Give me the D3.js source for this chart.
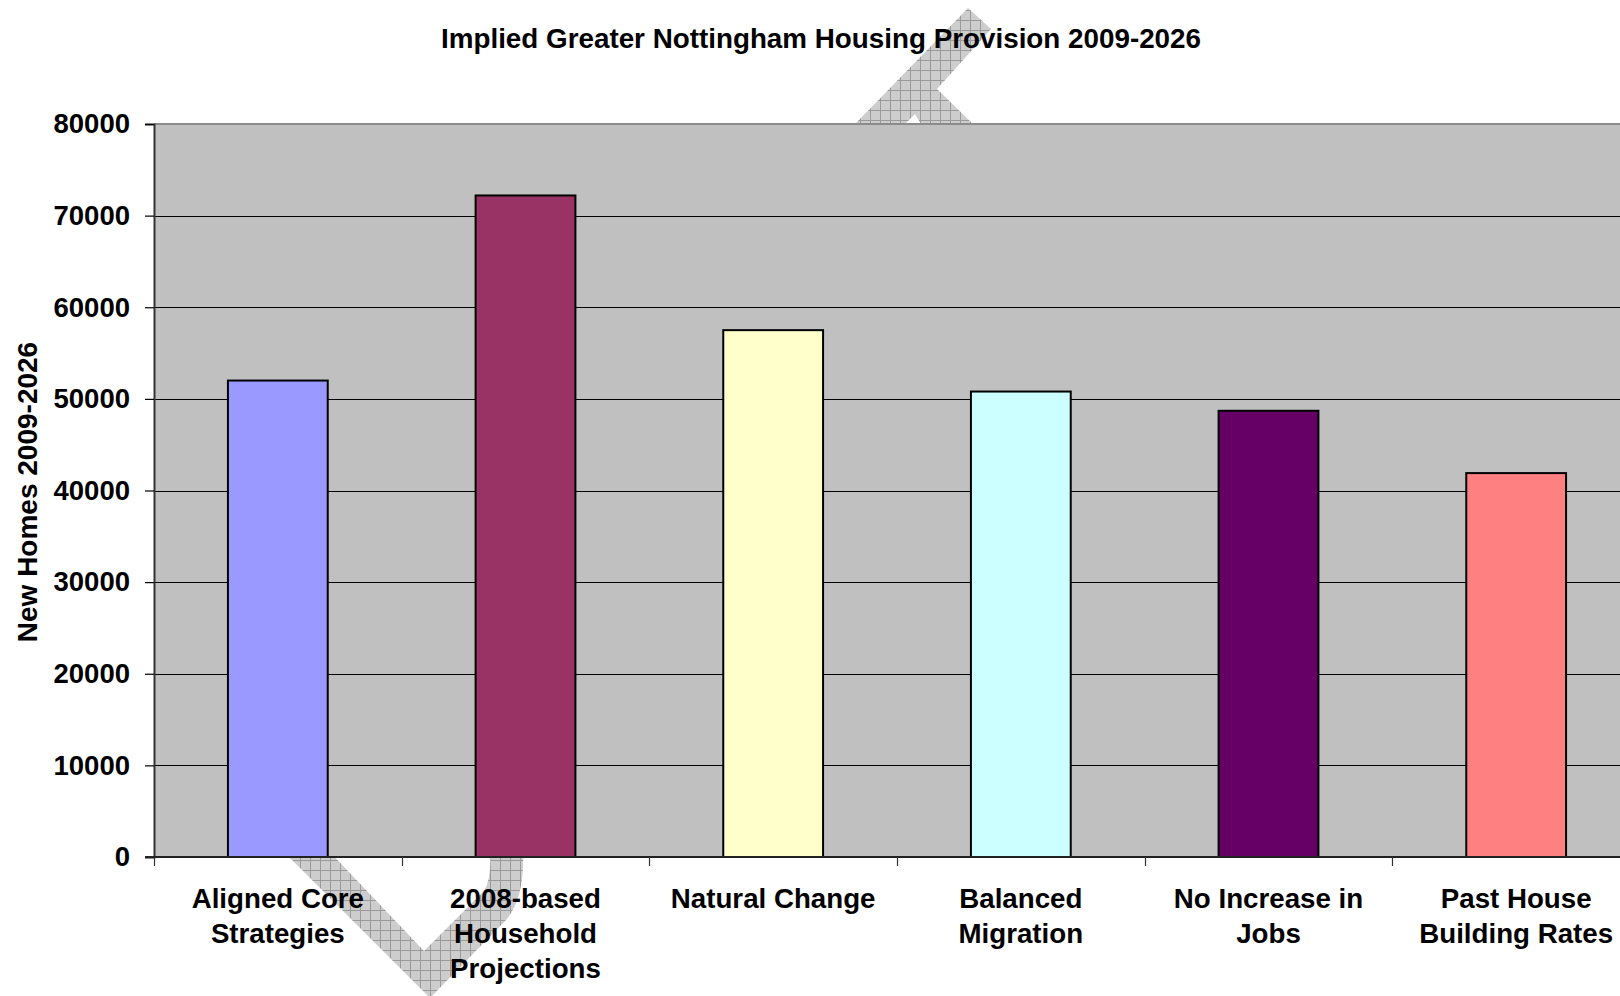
<!DOCTYPE html>
<html>
<head>
<meta charset="utf-8">
<script src="https://cdn.jsdelivr.net/npm/d3@7"></script>
<style>
  html, body { margin: 0; padding: 0; background: #fff; overflow: hidden; }
  svg { display: block; font-family: "Liberation Sans", Arial, sans-serif; }
</style>
</head>
<body>
<svg id="chart" width="1620" height="996"></svg>
<script>
// chart data
const categories = ['Aligned Core Strategies', '2008-based Household Projections', 'Natural Change',
  'Balanced Migration', 'No Increase in Jobs', 'Past House Building Rates']
const categoryLines = [
  ['Aligned Core', 'Strategies'],
  ['2008-based', 'Household', 'Projections'],
  ['Natural Change'],
  ['Balanced', 'Migration'],
  ['No Increase in', 'Jobs'],
  ['Past House', 'Building Rates']
]
const newHomes = [52000, 72200, 57500, 50800, 48700, 41900]
const barColors = ['#9999ff', '#993366', '#ffffcc', '#ccffff', '#660066', '#ff8080']
const yTicks = [0, 10000, 20000, 30000, 40000, 50000, 60000, 70000, 80000]
const titleText = 'Implied Greater Nottingham Housing Provision 2009-2026'
const yTitle = 'New Homes 2009-2026'

const svg = d3.select('#chart')
const plot = { left: 154, right: 1640, top: 124, bottom: 857 }

const x = d3.scaleBand().domain(categories).range([plot.left, plot.right])
  .paddingInner(0.597).paddingOuter(0.2985)
const xCell = d3.scaleBand().domain(categories).range([plot.left, plot.right]).padding(0)
const y = d3.scaleLinear().domain([0, 80000]).range([plot.bottom, plot.top])

// hatched background graphic (visible only outside the plot area)
const defs = svg.append('defs')
const pat = defs.append('pattern').attr('id', 'hatch').attr('patternUnits', 'userSpaceOnUse')
  .attr('width', 10).attr('height', 10)
pat.append('rect').attr('width', 10).attr('height', 10).attr('fill', '#cdcdcd')
pat.append('path').attr('d', 'M0 0.5 H10 M0.5 0 V10').attr('stroke', '#9a9a9a').attr('stroke-width', 1)

const deco = svg.append('g').attr('fill', 'url(#hatch)')
deco.append('path')
  .attr('d', 'M 855 124 L 968 8 L 991 29 L 937 89 L 973 124 L 921 124 L 915 114 L 905 124 Z')
deco.append('path')
  .attr('d', 'M 282 850 L 430 998 L 506 920 Q 525 898 523 850 L 490 850 Q 492 878 484 891 L 424 951 L 328 850 Z')

// plot area
svg.append('rect')
  .attr('x', plot.left).attr('y', plot.top)
  .attr('width', plot.right - plot.left).attr('height', plot.bottom - plot.top)
  .attr('fill', '#c0c0c0')

// gridlines
svg.append('g')
  .selectAll('line')
  .data(yTicks.filter((d) => d > 0 && d < 80000))
  .join('line')
  .attr('x1', plot.left).attr('x2', plot.right)
  .attr('y1', (d) => Math.round(y(d)) + 0.5).attr('y2', (d) => Math.round(y(d)) + 0.5)
  .attr('stroke', '#000').attr('stroke-width', 1.2)

// plot border top
svg.append('line')
  .attr('x1', plot.left).attr('x2', plot.right)
  .attr('y1', plot.top).attr('y2', plot.top)
  .attr('stroke', '#8c8c8c').attr('stroke-width', 2)

// bars
svg.append('g')
  .selectAll('rect')
  .data(categories)
  .join('rect')
  .attr('x', (d) => x(d))
  .attr('y', (d, i) => y(newHomes[i]))
  .attr('width', x.bandwidth())
  .attr('height', (d, i) => y(0) - y(newHomes[i]))
  .attr('fill', (d, i) => barColors[i])
  .attr('stroke', '#000').attr('stroke-width', 2)

// y axis
const yAxis = svg.append('g')
  .attr('transform', `translate(${plot.left},0)`)
  .call(d3.axisLeft(y).tickValues(yTicks).tickSize(9).tickPadding(15).tickFormat(d3.format('d')))
yAxis.select('.domain').attr('stroke', '#333').attr('stroke-width', 2)
yAxis.selectAll('.tick line').attr('stroke', '#000').attr('stroke-width', 1.2)
yAxis.selectAll('.tick text')
  .attr('fill', '#000').attr('font-size', 27.5).attr('font-weight', 'bold')
  .attr('font-family', '"Liberation Sans", Arial, sans-serif')

// x axis line and ticks at category boundaries
svg.append('line')
  .attr('x1', plot.left - 9).attr('x2', plot.right)
  .attr('y1', plot.bottom).attr('y2', plot.bottom)
  .attr('stroke', '#222').attr('stroke-width', 2)
svg.append('g')
  .selectAll('line')
  .data(categories)
  .join('line')
  .attr('x1', (d) => Math.round(xCell(d)) + 0.5).attr('x2', (d) => Math.round(xCell(d)) + 0.5)
  .attr('y1', plot.bottom).attr('y2', plot.bottom + 9)
  .attr('stroke', '#333').attr('stroke-width', 1.2)

// category labels
svg.append('g')
  .selectAll('text')
  .data(categories)
  .join('text')
  .attr('x', (d) => xCell(d) + xCell.bandwidth() / 2)
  .attr('y', 908)
  .attr('text-anchor', 'middle')
  .attr('font-size', 27.7).attr('font-weight', 'bold').attr('fill', '#000')
  .selectAll('tspan')
  .data((d, i) => categoryLines[i])
  .join('tspan')
  .attr('x', function () { return this.parentNode.getAttribute('x') })
  .attr('dy', (d, i) => (i === 0 ? 0 : 35))
  .text((d) => d)

// y axis title
svg.append('text')
  .attr('transform', 'translate(37,492) rotate(-90)')
  .attr('text-anchor', 'middle')
  .attr('font-size', 28).attr('font-weight', 'bold').attr('fill', '#000')
  .text(yTitle)

// chart title
svg.append('text')
  .attr('x', 821).attr('y', 48)
  .attr('text-anchor', 'middle')
  .attr('font-size', 27.8).attr('font-weight', 'bold').attr('fill', '#000')
  .text(titleText)
</script>
</body>
</html>
